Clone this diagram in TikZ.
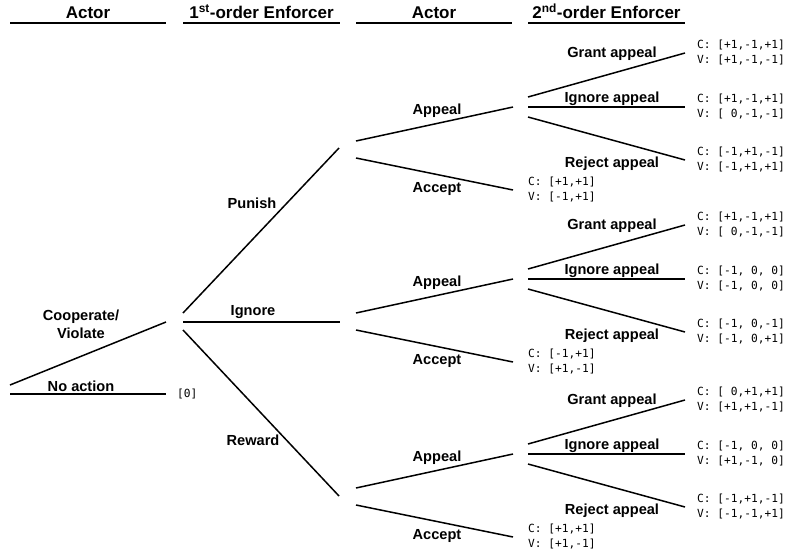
\documentclass[tikz,border=0pt]{standalone}
\usepackage{fontspec}
\setmainfont{Liberation Sans}
\newfontfamily\payfont{DejaVu Sans Mono}
\newcommand{\zs}{\hphantom{0}}
\begin{document}
\begin{tikzpicture}[x=1pt,y=-1pt,
  branch/.style={line width=1.5pt},
  rule/.style={line width=1.8pt},
  head/.style={font=\fontsize{17}{20}\selectfont\bfseries,inner sep=0pt,anchor=base},
  lab/.style={font=\fontsize{14.6}{18}\selectfont\bfseries,inner sep=0pt,anchor=base},
  pay/.style={font=\payfont\fontsize{11.2}{15}\selectfont,inner sep=0pt,anchor=west,align=left},
]
\useasboundingbox (0,0) rectangle (788,552);
% column headers
\foreach \n/\xl/\xr/\t in {h1/10/166/Actor, h2/183/340/{1\textsuperscript{st}-order Enforcer}, h3/356/512/Actor, h4/528/685/{2\textsuperscript{nd}-order Enforcer}}{
  \node[head] (\n) at ({(\xl+\xr)/2},18.5) {\t};
  \coordinate (\n l) at (\xl,23);
  \coordinate (\n r) at (\xr,23);
  \draw[rule] (\n l) -- (\n r);
}
% root: actor
\coordinate (cvs) at (10,385);  \coordinate (cve) at (166,322);
\coordinate (nas) at (10,394);  \coordinate (nae) at (166,394);
\draw[branch] (cvs) -- (cve);
\draw[branch] (nas) -- (nae);
\node[lab,align=center,anchor=center] (cvL) at (81,324) {Cooperate/\\Violate};
\node[lab] (naL) at (81,391) {No action};
\node[pay] (naP) at (177,394) {[0]};
% first-order enforcer
\coordinate (puns) at (183,313); \coordinate (pune) at (339,148);
\coordinate (igns) at (183,322); \coordinate (igne) at (340,322);
\coordinate (rews) at (183,330); \coordinate (rewe) at (339,496);
\draw[branch] (puns) -- (pune);
\draw[branch] (igns) -- (igne);
\draw[branch] (rews) -- (rewe);
\node[lab] (punL) at (252,208) {Punish};
\node[lab] (ignL) at (253,315) {Ignore};
\node[lab] (rewL) at (253,445) {Reward};
% actor responses and second-order enforcer
\foreach \g/\ya/\gc/\gv/\ic/\iv/\rc/\rv/\ac/\av in {
 P/150/{[+1,-1,+1]}/{[+1,-1,-1]}/{[+1,-1,+1]}/{[\zs0,-1,-1]}/{[-1,+1,-1]}/{[-1,+1,+1]}/{[+1,+1]}/{[-1,+1]},
 I/322/{[+1,-1,+1]}/{[\zs0,-1,-1]}/{[-1,\zs0,\zs0]}/{[-1,\zs0,\zs0]}/{[-1,\zs0,-1]}/{[-1,\zs0,+1]}/{[-1,+1]}/{[+1,-1]},
 R/497/{[\zs0,+1,+1]}/{[+1,+1,-1]}/{[-1,\zs0,\zs0]}/{[+1,-1,\zs0]}/{[-1,+1,-1]}/{[-1,-1,+1]}/{[+1,+1]}/{[+1,-1]}
}{
  \pgfmathsetmacro{\ys}{\ya-43}
  \coordinate (aps\g) at (356,\ya-9);  \coordinate (ape\g) at (513,\ys);
  \coordinate (acs\g) at (356,\ya+8);  \coordinate (ace\g) at (513,\ya+40);
  \draw[branch] (aps\g) -- (ape\g);
  \draw[branch] (acs\g) -- (ace\g);
  \node[lab] (apL\g) at (437,\ya-36) {Appeal};
  \node[lab] (acL\g) at (437,\ya+42) {Accept};
  \node[pay] (acP\g) at (528,\ya+40) {C: \ac\\V: \av};
  \coordinate (grs\g) at (528,\ys-10); \coordinate (gre\g) at (685,\ys-54);
  \coordinate (iss\g) at (528,\ys);    \coordinate (ise\g) at (685,\ys);
  \coordinate (rjs\g) at (528,\ys+10); \coordinate (rje\g) at (685,\ys+53);
  \draw[branch] (grs\g) -- (gre\g);
  \draw[branch] (iss\g) -- (ise\g);
  \draw[branch] (rjs\g) -- (rje\g);
  \node[lab] (grL\g) at (612,\ys-50) {Grant appeal};
  \node[lab] (isL\g) at (612,\ys-5) {Ignore appeal};
  \node[lab] (rjL\g) at (612,\ys+60) {Reject appeal};
  \node[pay] (grP\g) at (697,\ys-54) {C: \gc\\V: \gv};
  \node[pay] (isP\g) at (697,\ys) {C: \ic\\V: \iv};
  \node[pay] (rjP\g) at (697,\ys+53) {C: \rc\\V: \rv};
}
\end{tikzpicture}
\end{document}
